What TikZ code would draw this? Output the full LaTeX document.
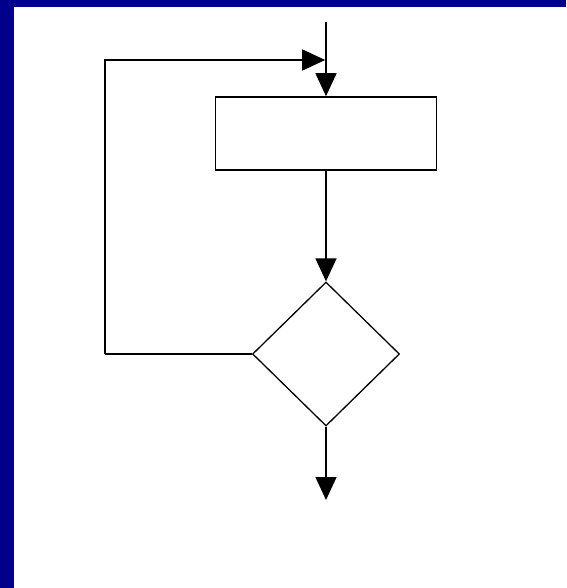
\documentclass[tikz,border=0pt]{standalone}
\usepackage{xcolor}
\usepackage{tikz}
\usetikzlibrary{shapes.geometric, arrows.meta}
\definecolor{frameblue}{RGB}{0, 0, 139}

\begin{document}
\begin{tikzpicture}[
  x=1pt, y=-1pt,
  procbox/.style = {rectangle, draw=black, line width=1.6pt, fill=white,
                    minimum width=221pt, minimum height=73pt, inner sep=0pt},
  decide/.style  = {diamond, aspect=1, draw=black, line width=1.3pt, fill=white,
                    minimum width=147pt, minimum height=144pt, inner sep=0pt},
  arr/.style     = {-{Triangle[length=23pt,width=21pt]}, line width=1.6pt},
  ln/.style      = {line width=1.6pt},
]
  % Frame
  \useasboundingbox (0,0) rectangle (566,588);
  \fill[white] (0,0) rectangle (566,588);
  \fill[frameblue] (0,0) rectangle (566,7);
  \fill[frameblue] (0,0) rectangle (14,588);

  % Shapes
  \node[procbox] (proc) at (326,133.5) {};
  \node[decide]  (cond) at (326,354)   {};

  % Free ends
  \coordinate (entry)   at (326,22);
  \coordinate (join)    at (326,60);
  \coordinate (loopbot) at (105,354);
  \coordinate (exit)    at (326,500);

  % Connectors
  \draw[arr] (entry) -- (proc.north);
  \draw[arr] (proc.south) -- (cond.north);
  \draw[arr] (cond.south) -- (exit);
  \draw[ln] (cond.west) -- (loopbot);
  \draw[arr] (loopbot) |- ([xshift=-0.8pt]join);
\end{tikzpicture}
\end{document}
